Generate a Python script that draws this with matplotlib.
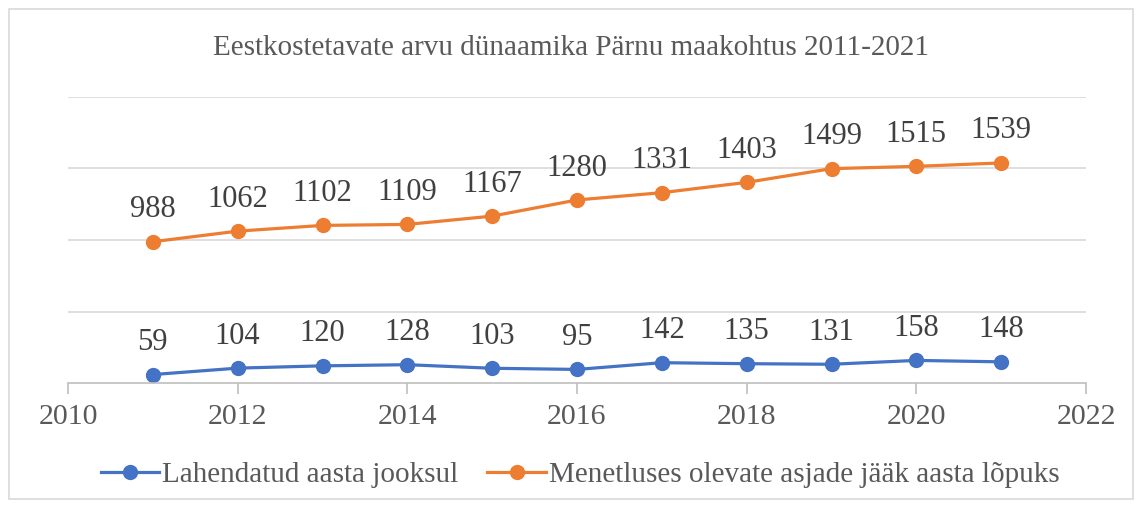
import matplotlib.pyplot as plt
from matplotlib.patches import Rectangle

years = [2011, 2012, 2013, 2014, 2015, 2016, 2017, 2018, 2019, 2020, 2021]
lahendatud = [59, 104, 120, 128, 103, 95, 142, 135, 131, 158, 148]
jaak = [988, 1062, 1102, 1109, 1167, 1280, 1331, 1403, 1499, 1515, 1539]
series_names = ['Lahendatud aasta jooksul', 'Menetluses olevate asjade jääk aasta lõpuks']
title = 'Eestkostetavate arvu dünaamika Pärnu maakohtus 2011-2021'

blue = '#4472C4'
orange = '#ED7D31'
text_col = '#595959'

plt.rcParams['font.family'] = ['Liberation Serif', 'DejaVu Serif']

fig = plt.figure(figsize=(11.42, 5.08), dpi=100)
ax = fig.add_axes([68 / 1142, 1 - 383 / 508, (1086 - 68) / 1142, (383 - 97) / 508])

fig.patches.append(Rectangle((9 / 1142, 9 / 508), 1 - 18 / 1142, 1 - 18 / 508,
                             transform=fig.transFigure, fill=False,
                             edgecolor='#D9D9D9', linewidth=1.2))

for vals, col, name in [(lahendatud, blue, series_names[0]), (jaak, orange, series_names[1])]:
    ax.plot(years, vals, color=col, lw=2.3, marker='o', ms=10, label=name)
    for x, y in zip(years, vals):
        ax.annotate(str(y), (x, y), xytext=(0, 23), textcoords='offset points',
                    ha='center', va='center', fontsize=22, color='#404040')

ax.set_xlim(2010, 2022)
ax.set_ylim(0, 2000)
ax.set_xticks(range(2010, 2023, 2))
ax.set_yticks([500, 1000, 1500, 2000])
ax.set_yticklabels([])
ax.tick_params(axis='y', length=0)
ax.tick_params(axis='x', length=8, color='#BFBFBF', width=1.2, labelsize=21.5,
               labelcolor=text_col, pad=7)
ax.grid(axis='y', color='#D9D9D9', lw=1.2)
ax.set_axisbelow(True)
for s in ['left', 'right', 'top']:
    ax.spines[s].set_visible(False)
ax.spines['bottom'].set_color('#BFBFBF')
ax.spines['bottom'].set_linewidth(1.2)

fig.text(0.5, 1 - 48 / 508, title, ha='center', va='center', fontsize=21, color=text_col)
fig.legend(loc='center', bbox_to_anchor=(580 / 1142, 1 - 475 / 508), ncol=2, frameon=False,
           fontsize=21, labelcolor=text_col, handlelength=2.0, handletextpad=0.1,
           columnspacing=1.0)

fig.savefig('out.png', dpi=100)
